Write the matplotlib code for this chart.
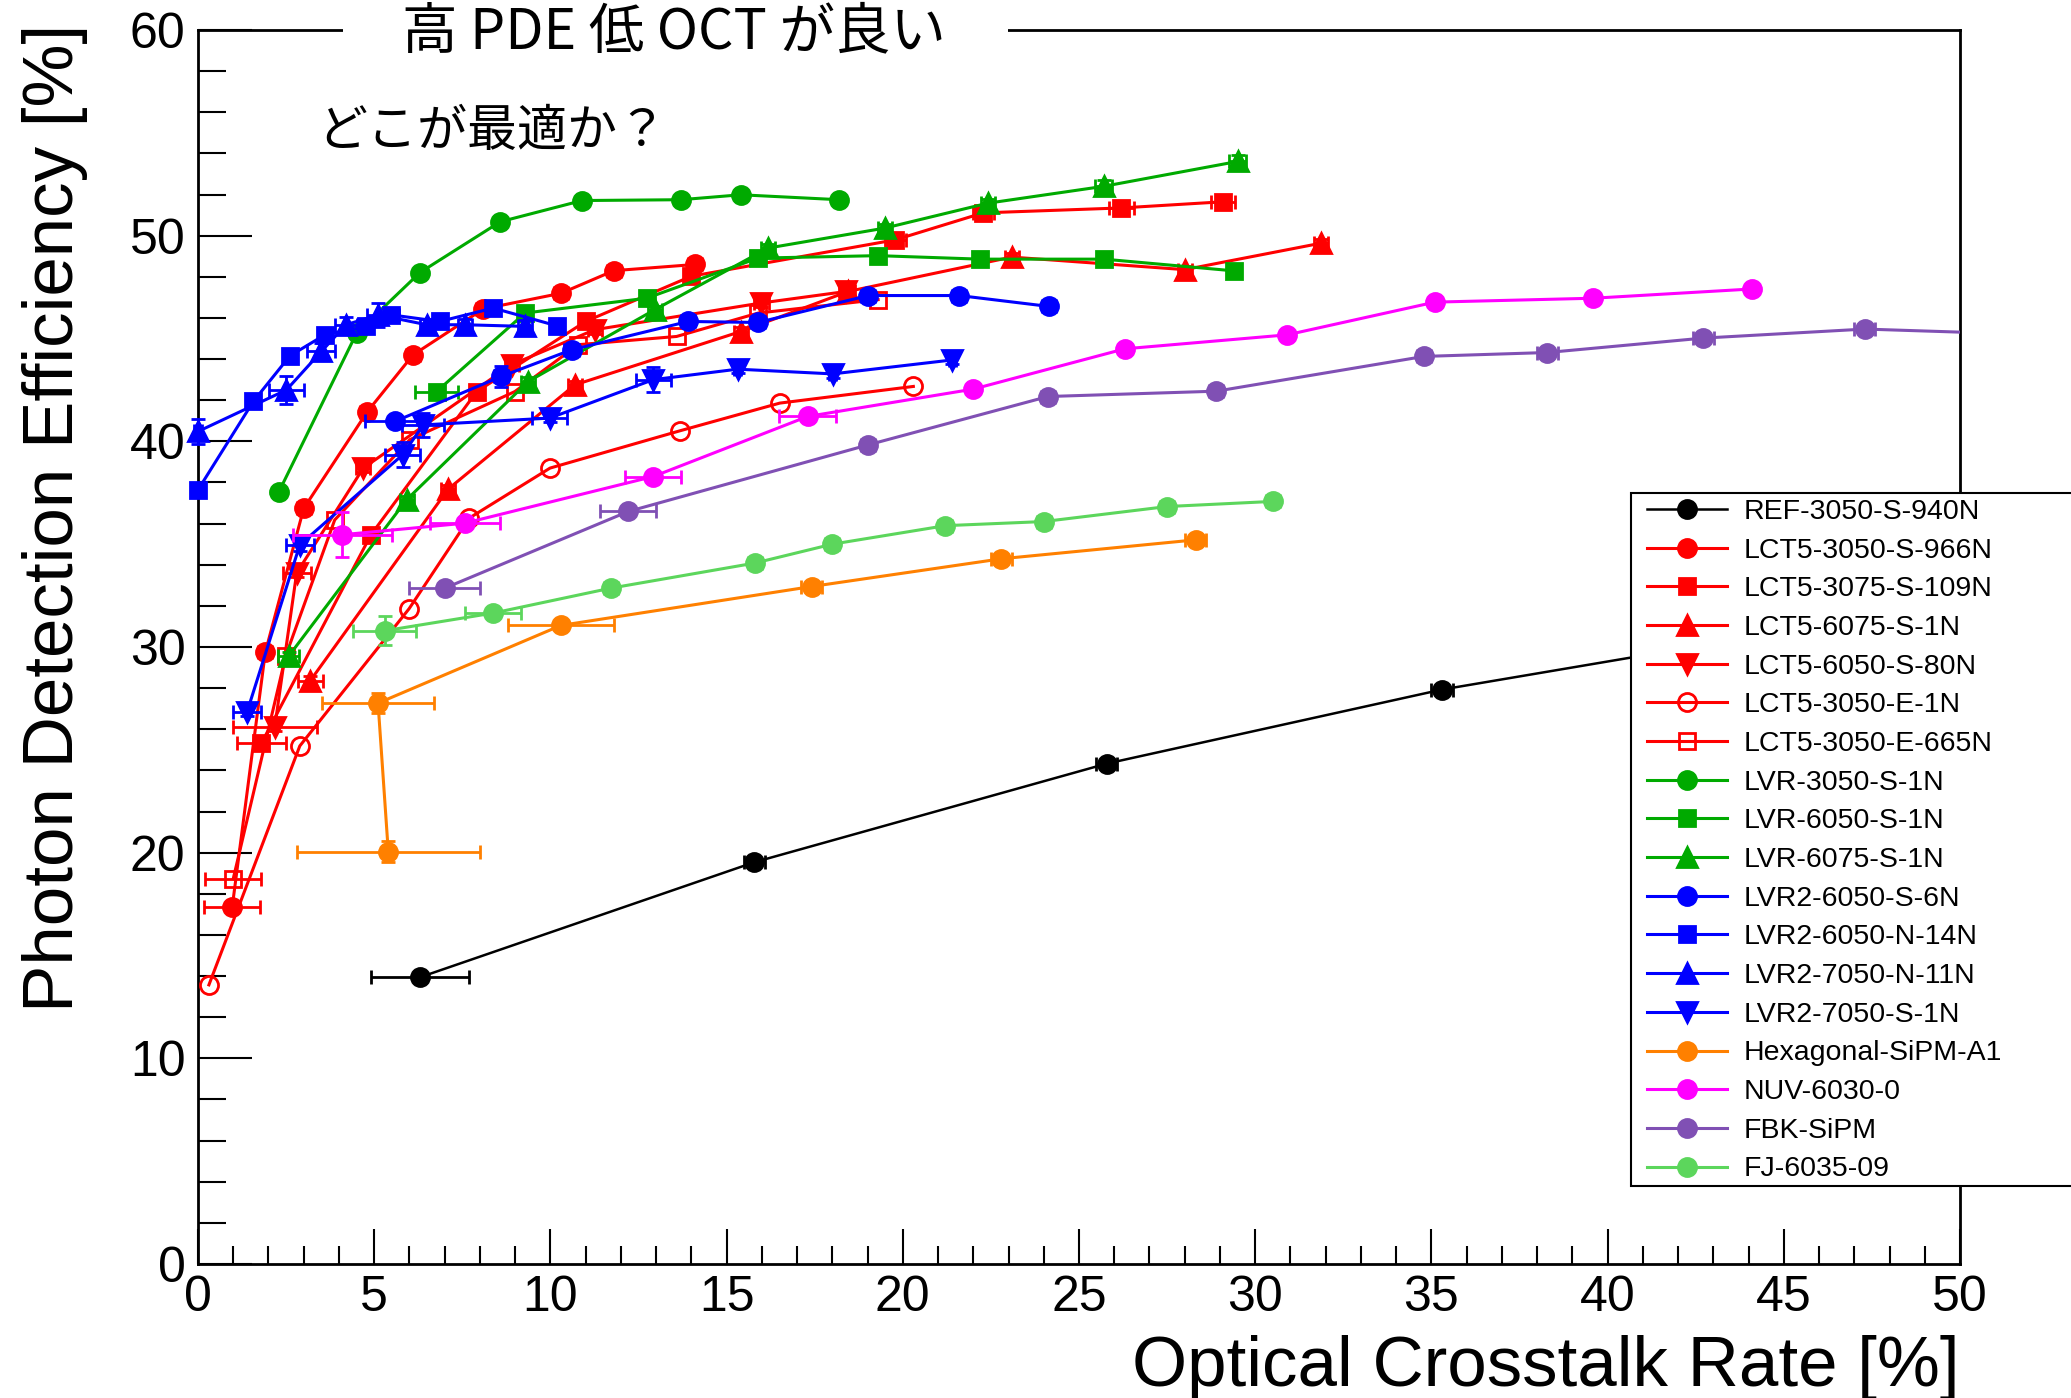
import numpy as np
import matplotlib.pyplot as plt
from matplotlib.lines import Line2D
from matplotlib.patches import Rectangle
from matplotlib.ticker import MultipleLocator

plt.rcParams['font.family'] = ['Liberation Sans', 'Noto Sans CJK JP']

# --- data (OCT %, PDE %) ---
ref_x = [6.3, 15.78, 25.79, 35.3, 44.5]
ref_y = [13.94, 19.53, 24.33, 27.93, 30.6]
ref_xe = [1.4, 0.3, 0.3, 0.3, 0.3]
ref_ye = [0.2, 0.2, 0.2, 0.2, 0.2]

lct5_3050s_x = [0.97, 1.91, 3.0, 4.8, 6.1, 8.1, 10.3, 11.8, 14.1]
lct5_3050s_y = [17.34, 29.74, 36.74, 41.43, 44.2, 46.44, 47.2, 48.3, 48.6]
lct5_3050s_xe = [0.8, 0.2, 0.2, 0.2, 0.2, 0.2, 0.2, 0.2, 0.2]
lct5_3050s_ye = [0.2, 0.2, 0.2, 0.2, 0.2, 0.2, 0.2, 0.2, 0.2]

lct5_3075s_x = [1.8, 4.91, 7.91, 11.0, 14.0, 19.79, 22.28, 26.2, 29.09]
lct5_3075s_y = [25.32, 35.46, 42.42, 45.83, 48.03, 49.8, 51.11, 51.35, 51.65]
lct5_3075s_xe = [0.7, 0.2, 0.2, 0.2, 0.2, 0.3, 0.3, 0.35, 0.35]
lct5_3075s_ye = [0.2, 0.2, 0.2, 0.2, 0.2, 0.2, 0.2, 0.2, 0.2]

lct5_6075s_x = [3.19, 7.10, 10.70, 15.40, 18.45, 23.09, 28.0, 31.88]
lct5_6075s_y = [28.37, 37.68, 42.75, 45.34, 47.29, 48.96, 48.35, 49.64]
lct5_6075s_xe = [0.35, 0.2, 0.2, 0.2, 0.2, 0.2, 0.2, 0.2]
lct5_6075s_ye = [0.2, 0.2, 0.2, 0.2, 0.2, 0.2, 0.2, 0.2]

lct5_6050s_x = [2.18, 2.80, 4.69, 8.90, 11.26, 15.99, 18.4]
lct5_6050s_y = [26.13, 33.6, 38.7, 43.73, 45.43, 46.73, 47.29]
lct5_6050s_xe = [1.2, 0.4, 0.2, 0.2, 0.2, 0.2, 0.2]
lct5_6050s_ye = [0.2, 0.2, 0.2, 0.2, 0.2, 0.2, 0.2]

lct5_3050e_x = [0.31, 2.89, 5.99, 7.70, 9.99, 13.67, 16.51, 20.30]
lct5_3050e_y = [13.57, 25.19, 31.86, 36.27, 38.70, 40.51, 41.86, 42.67]
lct5_3050e_xe = [0, 0, 0, 0, 0, 0, 0, 0]
lct5_3050e_ye = [0, 0, 0, 0, 0, 0, 0, 0]

lct5_3050e665_x = [1.0, 2.49, 3.88, 6.01, 8.99, 10.79, 13.58, 15.9, 19.3]
lct5_3050e665_y = [18.73, 29.57, 36.18, 40.08, 42.42, 44.7, 45.1, 46.24, 46.89]
lct5_3050e665_xe = [0.8, 0, 0, 0, 0, 0, 0, 0, 0]
lct5_3050e665_ye = [0, 0, 0, 0, 0, 0, 0, 0, 0]

lvr_3050s_x = [2.3, 4.50, 6.30, 8.58, 10.9, 13.7, 15.4, 18.2]
lvr_3050s_y = [37.56, 45.26, 48.21, 50.68, 51.71, 51.75, 51.99, 51.75]
lvr_3050s_xe = [0.1, 0.1, 0.1, 0.1, 0.1, 0.1, 0.1, 0.1]
lvr_3050s_ye = [0.2, 0.2, 0.2, 0.2, 0.2, 0.2, 0.2, 0.2]

lvr_6050s_x = [6.77, 9.28, 12.73, 15.89, 19.30, 22.19, 25.71, 29.4]
lvr_6050s_y = [42.42, 46.24, 46.96, 48.91, 49.03, 48.86, 48.86, 48.29]
lvr_6050s_xe = [0.6, 0.2, 0.2, 0.2, 0.2, 0.2, 0.2, 0.2]
lvr_6050s_ye = [0.3, 0.2, 0.2, 0.2, 0.2, 0.2, 0.2, 0.2]

lvr_6075s_x = [2.58, 5.92, 9.37, 12.96, 16.18, 19.49, 22.41, 25.7, 29.5]
lvr_6075s_y = [29.57, 37.16, 42.91, 46.4, 49.4, 50.37, 51.58, 52.4, 53.61]
lvr_6075s_xe = [0.3, 0.2, 0.2, 0.2, 0.2, 0.2, 0.2, 0.25, 0.25]
lvr_6075s_ye = [0.2, 0.2, 0.2, 0.2, 0.2, 0.2, 0.2, 0.3, 0.3]

lvr2_6050s_x = [5.59, 8.61, 10.6, 13.91, 15.89, 19.02, 21.6, 24.15]
lvr2_6050s_y = [40.97, 43.16, 44.45, 45.83, 45.78, 47.09, 47.09, 46.56]
lvr2_6050s_xe = [0.85, 0.2, 0.2, 0.2, 0.2, 0.2, 0.2, 0.2]
lvr2_6050s_ye = [0.2, 0.5, 0.2, 0.2, 0.2, 0.2, 0.2, 0.2]

lvr2_6050n_x = [0.0, 1.57, 2.61, 3.6, 4.78, 5.49, 6.86, 8.38, 10.18]
lvr2_6050n_y = [37.64, 41.94, 44.16, 45.18, 45.59, 46.15, 45.83, 46.48, 45.62]
lvr2_6050n_xe = [0.1, 0.2, 0.2, 0.2, 0.2, 0.2, 0.2, 0.2, 0.2]
lvr2_6050n_ye = [0.2, 0.2, 0.2, 0.2, 0.3, 0.3, 0.2, 0.2, 0.2]

lvr2_7050n_x = [0.0, 2.51, 3.5, 4.2, 5.11, 6.49, 7.57, 9.28]
lvr2_7050n_y = [40.48, 42.5, 44.37, 45.67, 46.15, 45.67, 45.67, 45.59]
lvr2_7050n_xe = [0.1, 0.5, 0.4, 0.3, 0.3, 0.2, 0.2, 0.2]
lvr2_7050n_ye = [0.6, 0.7, 0.4, 0.4, 0.6, 0.3, 0.3, 0.3]

lvr2_7050s_x = [1.39, 2.89, 5.81, 6.39, 9.98, 12.92, 15.31, 18.01, 21.41]
lvr2_7050s_y = [26.83, 34.97, 39.35, 40.8, 41.13, 43.0, 43.51, 43.28, 43.96]
lvr2_7050s_xe = [0.4, 0.4, 0.5, 0.6, 0.5, 0.5, 0.1, 0.1, 0.1]
lvr2_7050s_ye = [0.2, 0.3, 0.6, 0.6, 0.2, 0.6, 0.2, 0.2, 0.2]

hex_x = [5.4, 5.11, 10.3, 17.41, 22.8, 28.31]
hex_y = [20.05, 27.27, 31.05, 32.94, 34.29, 35.21]
hex_xe = [2.6, 1.6, 1.5, 0.3, 0.3, 0.3]
hex_ye = [0.5, 0.5, 0.2, 0.2, 0.2, 0.2]

nuv_x = [4.1, 7.57, 12.92, 17.3, 22.0, 26.3, 30.91, 35.1, 39.59, 44.1]
nuv_y = [35.46, 36.02, 38.29, 41.21, 42.54, 44.5, 45.18, 46.77, 46.96, 47.41]
nuv_xe = [1.4, 1.0, 0.8, 0.8, 0.1, 0.1, 0.1, 0.1, 0.1, 0.1]
nuv_ye = [1.1, 0.3, 0.2, 0.2, 0.2, 0.2, 0.2, 0.2, 0.2, 0.2]

fbk_x = [7.0, 12.21, 19.02, 24.12, 28.9, 34.79, 38.29, 42.71, 47.3, 52.0]
fbk_y = [32.86, 36.59, 39.83, 42.18, 42.44, 44.13, 44.32, 45.02, 45.46, 45.2]
fbk_xe = [1.0, 0.8, 0.2, 0.2, 0.2, 0.2, 0.3, 0.3, 0.3, 0.3]
fbk_ye = [0.2, 0.2, 0.2, 0.2, 0.2, 0.2, 0.2, 0.2, 0.2, 0.2]

fj_x = [5.3, 8.38, 11.71, 15.8, 18.0, 21.21, 24.0, 27.5, 30.51]
fj_y = [30.79, 31.65, 32.86, 34.08, 35.0, 35.9, 36.1, 36.83, 37.08]
fj_xe = [0.9, 0.8, 0.2, 0.2, 0.2, 0.2, 0.2, 0.2, 0.2]
fj_ye = [0.7, 0.3, 0.2, 0.2, 0.2, 0.2, 0.2, 0.2, 0.2]

red, green, blue = '#ff0000', '#00aa00', '#0000ff'
series = [
    ('REF-3050-S-940N', ref_x, ref_y, ref_xe, ref_ye, 'black', 'o', True),
    ('LCT5-3050-S-966N', lct5_3050s_x, lct5_3050s_y, lct5_3050s_xe, lct5_3050s_ye, red, 'o', True),
    ('LCT5-3075-S-109N', lct5_3075s_x, lct5_3075s_y, lct5_3075s_xe, lct5_3075s_ye, red, 's', True),
    ('LCT5-6075-S-1N', lct5_6075s_x, lct5_6075s_y, lct5_6075s_xe, lct5_6075s_ye, red, '^', True),
    ('LCT5-6050-S-80N', lct5_6050s_x, lct5_6050s_y, lct5_6050s_xe, lct5_6050s_ye, red, 'v', True),
    ('LCT5-3050-E-1N', lct5_3050e_x, lct5_3050e_y, lct5_3050e_xe, lct5_3050e_ye, red, 'o', False),
    ('LCT5-3050-E-665N', lct5_3050e665_x, lct5_3050e665_y, lct5_3050e665_xe, lct5_3050e665_ye, red, 's', False),
    ('LVR-3050-S-1N', lvr_3050s_x, lvr_3050s_y, lvr_3050s_xe, lvr_3050s_ye, green, 'o', True),
    ('LVR-6050-S-1N', lvr_6050s_x, lvr_6050s_y, lvr_6050s_xe, lvr_6050s_ye, green, 's', True),
    ('LVR-6075-S-1N', lvr_6075s_x, lvr_6075s_y, lvr_6075s_xe, lvr_6075s_ye, green, '^', True),
    ('LVR2-6050-S-6N', lvr2_6050s_x, lvr2_6050s_y, lvr2_6050s_xe, lvr2_6050s_ye, blue, 'o', True),
    ('LVR2-6050-N-14N', lvr2_6050n_x, lvr2_6050n_y, lvr2_6050n_xe, lvr2_6050n_ye, blue, 's', True),
    ('LVR2-7050-N-11N', lvr2_7050n_x, lvr2_7050n_y, lvr2_7050n_xe, lvr2_7050n_ye, blue, '^', True),
    ('LVR2-7050-S-1N', lvr2_7050s_x, lvr2_7050s_y, lvr2_7050s_xe, lvr2_7050s_ye, blue, 'v', True),
    ('Hexagonal-SiPM-A1', hex_x, hex_y, hex_xe, hex_ye, '#ff8000', 'o', True),
    ('NUV-6030-0', nuv_x, nuv_y, nuv_xe, nuv_ye, '#ff00ff', 'o', True),
    ('FBK-SiPM', fbk_x, fbk_y, fbk_xe, fbk_ye, '#8050b4', 'o', True),
    ('FJ-6035-09', fj_x, fj_y, fj_xe, fj_ye, '#5cd65c', 'o', True),
]
msize = {'o': 13, 's': 12, '^': 14, 'v': 14}

fig = plt.figure(figsize=(20.71, 13.98), dpi=100)
ax = fig.add_axes([0.0956, 0.0959, 0.8508, 0.8826])

handles = []
for i, (name, xs, ys, xe, ye, col, mk, filled) in enumerate(series):
    x, y = np.array(xs), np.array(ys)
    xe, ye = np.array(xe), np.array(ye)
    z = 2 + i * 0.1
    lw = 1.8 if col == 'black' else 2.2
    ax.plot(x, y, color=col, lw=lw, zorder=z)
    ins = x <= 50
    mx = ins & (xe > 0)
    my = ins & (ye > 0)
    ax.errorbar(x[mx], y[mx], xerr=xe[mx], fmt='none', ecolor=col, elinewidth=2,
                capsize=5, capthick=2, clip_on=False, zorder=z)
    ax.errorbar(x[my], y[my], yerr=ye[my], fmt='none', ecolor=col, elinewidth=2,
                capsize=5, capthick=2, clip_on=False, zorder=z)
    fc = col if filled else 'none'
    ax.plot(x[ins], y[ins], ls='none', marker=mk, ms=msize[mk], mfc=fc, mec=col,
            mew=2, clip_on=False, zorder=z + 0.05)
    handles.append(Line2D([], [], color=col, lw=lw, marker=mk, ms=msize[mk],
                          mfc=fc, mec=col, mew=2))

ax.set_xlim(0, 50)
ax.set_ylim(0, 60)
ax.xaxis.set_major_locator(MultipleLocator(5))
ax.xaxis.set_minor_locator(MultipleLocator(1))
ax.yaxis.set_major_locator(MultipleLocator(10))
ax.yaxis.set_minor_locator(MultipleLocator(2))
ax.tick_params(which='both', direction='in', top=False, right=False, width=1.5)
ax.tick_params(axis='y', which='major', length=39, labelsize=36, pad=9)
ax.tick_params(axis='y', which='minor', length=20)
ax.tick_params(axis='x', which='major', length=25, labelsize=36, pad=8)
ax.tick_params(axis='x', which='minor', length=13)
for s in ax.spines.values():
    s.set_linewidth(2)

fig.text(0.0266, 0.9828, 'Photon Detection Efficiency [%]', rotation=90,
         ha='center', va='top', fontsize=51)
fig.text(0.9464, 0.0085, 'Optical Crosstalk Rate [%]', ha='right',
         va='baseline', fontsize=51)

# white patch behind the title text hides the frame line
fig.add_artist(Rectangle((0.1656, 0.9678), 0.3211, 0.0322, transform=fig.transFigure,
                         facecolor='white', edgecolor='none', zorder=5))
fig.text(0.3253, 0.9764, '高 PDE 低 OCT が良い', ha='center', va='center',
         fontsize=40, family=['Noto Sans CJK JP'], zorder=6)
fig.text(0.1531, 0.9056, 'どこが最適か？', ha='left', va='center',
         fontsize=36, family=['Noto Sans CJK JP'], zorder=6)

# legend box
fig.add_artist(Rectangle((0.7876, 0.1516), 0.25, 0.4960, transform=fig.transFigure,
                         facecolor='white', edgecolor='black', lw=1.5, zorder=7))
leg = fig.legend(handles, [s[0] for s in series], loc='upper left',
                 bbox_to_anchor=(0.7953, 0.6430), frameon=False, fontsize=20.5,
                 borderpad=0, borderaxespad=0, labelspacing=0.445,
                 handlelength=2.8, handletextpad=0.58)
leg.set_zorder(8)

fig.savefig('out.png', dpi=100)
